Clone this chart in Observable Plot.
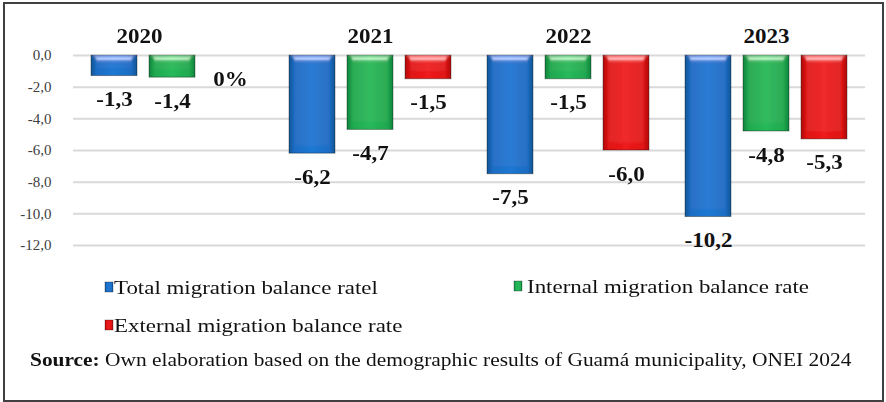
<!DOCTYPE html>
<html><head><meta charset="utf-8">
<script src="https://cdn.jsdelivr.net/npm/d3@7"></script>
<script src="https://cdn.jsdelivr.net/npm/@observablehq/plot@0.6"></script>
<style>
html,body{margin:0;padding:0;background:#fff;}
#wrap{position:relative;width:886px;height:402px;overflow:hidden;font-family:"Liberation Serif","Times New Roman",serif;}
#wrap > svg{position:absolute;left:0;top:0;}
#wrap svg text{font-family:"Liberation Serif","Times New Roman",serif;}
</style></head><body><div id="wrap"></div>
<script>
const years = ["2020", "2021", "2022", "2023"];
const seriesNames = ["Total migration balance ratel", "Internal migration balance rate", "External migration balance rate"];
const totalRate = [-1.3, -6.2, -7.5, -10.2];
const internalRate = [-1.4, -4.7, -1.5, -4.8];
const externalRate = [0, -1.5, -6.0, -5.3];
const yTicks = [0, -2, -4, -6, -8, -10, -12];
const sourceLabel = "Source:";
const sourceText = " Own elaboration based on the demographic results of Guamá municipality, ONEI 2024";

const seriesValues = [totalRate, internalRate, externalRate];
const rows = years.flatMap((year, i) => seriesNames.map((s, j) => ({year, series: s, value: seriesValues[j][i]})));
const fmt = v => v === 0 ? "0%" : v.toFixed(1).replace(".", ",");
const FONT = '"Liberation Serif","Times New Roman",serif';

const gradIds = ["gBlue", "gGreen", "gRed"];
const gradStops = [
  ["#135596", "#1b6cc3", "#1f78d2", "#1b6cc3", "#135596"],
  ["#12843e", "#1fa84f", "#27b95b", "#1fa84f", "#12843e"],
  ["#b00c0c", "#df1212", "#ee1b1b", "#df1212", "#b00c0c"]
];

const wrap = document.getElementById("wrap");

const chart = Plot.plot({
  width: 886, height: 260,
  marginLeft: 72, marginRight: 21, marginTop: 55, marginBottom: 15,
  style: {fontFamily: FONT, fontSize: "15px", color: "#404040", background: "transparent"},
  fx: {domain: years, padding: 0, axis: null},
  x: {domain: seriesNames, paddingInner: 0.2, paddingOuter: 0.3, axis: null},
  y: {domain: [-12, 0], ticks: yTicks, tickFormat: v => v.toFixed(1).replace(".", ","), tickSize: 0, tickPadding: 22, label: null},
  color: {domain: seriesNames, range: gradIds.map(id => `url(#${id})`)},
  marks: [
    Plot.gridY(yTicks, {stroke: "#d9d9d9", strokeOpacity: 1, strokeWidth: 2}),
    Plot.barY(rows, {filter: d => d.value !== 0, fx: "year", x: "series", y1: 0, y2: "value", fill: "series", stroke: "#000", strokeOpacity: 0.35, strokeWidth: 1}),
    Plot.text(rows, {fx: "year", x: "series", y: "value", text: d => fmt(d.value), dy: 30, lineAnchor: "bottom", fontSize: 20, fontWeight: "bold", fill: "#111"}),
    Plot.text(years.slice(0, 1), {fx: d => d, text: d => d, frameAnchor: "top", dx: -33, dy: -13, lineAnchor: "bottom", fontSize: 20, fontWeight: "bold", fill: "#111"}),
    Plot.text(years.slice(1), {fx: d => d, text: d => d, frameAnchor: "top", dy: -13, lineAnchor: "bottom", fontSize: 20, fontWeight: "bold", fill: "#111"})
  ]
});
wrap.appendChild(chart);

// gradients and a bevel light on the bar tops
const defs = d3.select(chart).insert("defs", ":first-child");
gradIds.forEach((id, k) => {
  const g = defs.append("linearGradient").attr("id", id).attr("x1", 0).attr("x2", 1).attr("y1", 0).attr("y2", 0);
  [0, 0.12, 0.5, 0.88, 1].forEach((o, m) => g.append("stop").attr("offset", o).attr("stop-color", gradStops[k][m]));
});
const bev = defs.append("filter").attr("id", "bevel").attr("x", "-5%").attr("y", "-5%").attr("width", "110%").attr("height", "110%");
bev.append("feGaussianBlur").attr("in", "SourceAlpha").attr("stdDeviation", 3).attr("result", "blur");
const spec = bev.append("feSpecularLighting").attr("in", "blur").attr("surfaceScale", 4).attr("specularConstant", 0.7).attr("specularExponent", 30).attr("lighting-color", "#ffffff").attr("result", "spec");
spec.append("feDistantLight").attr("azimuth", 270).attr("elevation", 35);
bev.append("feComposite").attr("in", "spec").attr("in2", "SourceAlpha").attr("operator", "in").attr("result", "specIn");
bev.append("feComposite").attr("in", "SourceGraphic").attr("in2", "specIn").attr("operator", "arithmetic").attr("k1", 0).attr("k2", 1).attr("k3", 0.6).attr("k4", 0);
d3.select(chart).selectAll('g[aria-label="bar"]').attr("filter", "url(#bevel)");

// tick labels in the serif face
d3.select(chart).selectAll("text").attr("font-family", FONT);
d3.select(chart).selectAll('g[aria-label="y-axis tick label"] text').attr("fill", "#404040");

// slight horizontal stretch of bold labels, as in the reference
d3.select(chart).selectAll('g[aria-label="text"] text').each(function() {
  const x = +this.getAttribute("x") || 0, y = +this.getAttribute("y") || 0;
  const t = this.getAttribute("transform") || "";
  this.setAttribute("transform", `${t} translate(${x},${y}) scale(1.15,1) translate(${-x},${-y})`);
});

// legend, source and frame
const ov = d3.select(wrap).append("svg").attr("width", 886).attr("height", 402).attr("font-family", FONT).style("pointer-events", "none");
const legendItems = [
  {i: 0, sx: 105, sy: 282, tx: 114, ty: 294},
  {i: 1, sx: 514, sy: 281, tx: 527, ty: 293},
  {i: 2, sx: 105, sy: 320, tx: 114, ty: 332}
];
legendItems.forEach(p => {
  ov.append("rect").attr("x", p.sx).attr("y", p.sy).attr("width", 8).attr("height", 10)
    .attr("fill", `url(#${gradIds[p.i]})`).attr("stroke", "#000").attr("stroke-opacity", 0.35).attr("stroke-width", 0.8);
  ov.append("text").attr("transform", `translate(${p.tx},${p.ty}) scale(1.24,1)`)
    .attr("font-size", 18.5).attr("fill", "#111").text(seriesNames[p.i]);
});
const src = ov.append("text").attr("transform", "translate(30,366) scale(1.19,1)").attr("font-size", 18).attr("fill", "#111");
src.append("tspan").attr("font-weight", "bold").text(sourceLabel);
src.append("tspan").text(sourceText);
ov.append("rect").attr("x", 4).attr("y", 3).attr("width", 879).attr("height", 398)
  .attr("fill", "none").attr("stroke", "#404040").attr("stroke-width", 2);
</script>
</body></html>
